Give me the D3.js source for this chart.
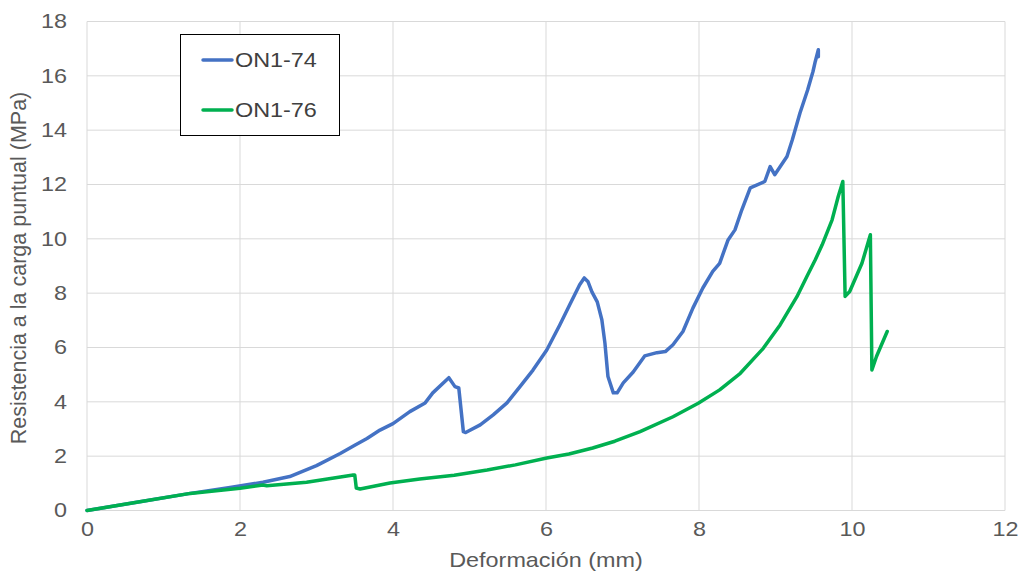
<!DOCTYPE html>
<html>
<head>
<meta charset="utf-8">
<script src="https://cdn.jsdelivr.net/npm/d3@7"></script>
<style>
  body { margin: 0; background: #fff; }
  svg text { font-family: "Liberation Sans", Arial, sans-serif; fill: #595959; }
</style>
</head>
<body>
<div id="chart"></div>
<script>
// Data -----------------------------------------------------------------------
const seriesNames = ["ON1-74", "ON1-76"];
const seriesColors = ["#4472C4", "#00B050"];

const on174X = [0, 0.69, 1.35, 1.87, 2.3, 2.65, 3.0, 3.31, 3.5, 3.66, 3.83, 4.0, 4.22, 4.42, 4.52, 4.73, 4.81, 4.86,
  4.92, 4.95, 5.14, 5.31, 5.49, 5.66, 5.83, 6.01, 6.18, 6.31, 6.44, 6.50, 6.55, 6.60, 6.67, 6.73, 6.77, 6.81, 6.88,
  6.93, 7.01, 7.14, 7.29, 7.45, 7.56, 7.66, 7.79, 7.92, 8.05, 8.18, 8.27, 8.38, 8.47, 8.56, 8.67, 8.73, 8.86, 8.93,
  8.99, 9.15, 9.22, 9.32, 9.42, 9.49, 9.52, 9.56, 9.56];
const on174Y = [0, 0.32, 0.63, 0.85, 1.04, 1.25, 1.65, 2.1, 2.4, 2.65, 2.96, 3.2, 3.64, 3.96, 4.33, 4.89, 4.56, 4.51,
  2.90, 2.87, 3.15, 3.52, 3.96, 4.56, 5.17, 5.91, 6.83, 7.57, 8.31, 8.56, 8.42, 8.05, 7.68, 7.02, 6.17, 4.93, 4.33,
  4.33, 4.70, 5.10, 5.69, 5.81, 5.85, 6.10, 6.59, 7.45, 8.19, 8.80, 9.10, 9.96, 10.33, 11.07, 11.88, 11.95, 12.11, 12.66,
  12.36, 13.03, 13.65, 14.63, 15.48, 16.16, 16.53, 16.96, 16.7];

const on176X = [0, 0.69, 1.35, 2.0, 2.3, 2.35, 2.87, 3.48, 3.50, 3.52, 3.57, 3.96, 4.35, 4.8, 5.23, 5.6, 6.01, 6.3,
  6.61, 6.9, 7.23, 7.66, 7.99, 8.27, 8.54, 8.84, 9.06, 9.28, 9.41, 9.52, 9.61, 9.74, 9.82, 9.88, 9.91, 9.97, 10.13,
  10.24, 10.26, 10.32, 10.46];
const on176Y = [0, 0.32, 0.63, 0.82, 0.94, 0.91, 1.04, 1.31, 1.31, 0.83, 0.79, 1.01, 1.16, 1.3, 1.49, 1.68, 1.93, 2.08,
  2.3, 2.55, 2.90, 3.45, 3.95, 4.44, 5.05, 5.97, 6.83, 7.87, 8.61, 9.23, 9.78, 10.7, 11.56, 12.11, 7.88, 8.06, 9.1,
  10.15, 5.17, 5.67, 6.59];

const xTicks = [0, 2, 4, 6, 8, 10, 12];
const yTicks = [0, 2, 4, 6, 8, 10, 12, 14, 16, 18];

// Canvas ---------------------------------------------------------------------
const canvasWidth = 1023;
const canvasHeight = 574;
const leftPadding = 87;
const rightPadding = 18;
const topPadding = 21.5;
const bottomPadding = 63.5;
const stretch = 1.17; // reference text looks horizontally stretched

const svg = d3.select("#chart")
  .append("svg")
  .attr("width", canvasWidth)
  .attr("height", canvasHeight);

const xScale = d3.scaleLinear()
  .domain([0, 12])
  .range([leftPadding, canvasWidth - rightPadding]);
const yScale = d3.scaleLinear()
  .domain([0, 18])
  .range([canvasHeight - bottomPadding, topPadding]);

// Gridlines
svg.append("g")
  .selectAll("line")
  .data(xTicks)
  .join("line")
  .attr("x1", d => xScale(d)).attr("x2", d => xScale(d))
  .attr("y1", yScale(0)).attr("y2", yScale(18))
  .attr("stroke", "#d9d9d9")
  .attr("stroke-width", 1);

svg.append("g")
  .selectAll("line")
  .data(yTicks)
  .join("line")
  .attr("x1", xScale(0)).attr("x2", xScale(12))
  .attr("y1", d => yScale(d)).attr("y2", d => yScale(d))
  .attr("stroke", "#d9d9d9")
  .attr("stroke-width", 1);

// Axes (labels only)
const tickFont = 20;
const xAxis = svg.append("g")
  .attr("transform", "translate(0," + yScale(0) + ")")
  .call(d3.axisBottom(xScale).tickValues(xTicks).tickSize(0).tickPadding(11).tickFormat(d3.format("d")));
xAxis.select(".domain").remove();
xAxis.selectAll("text")
  .style("font-size", tickFont + "px")
  .attr("fill", "#595959")
  .attr("transform", "scale(" + stretch + ",1)");

const yAxis = svg.append("g")
  .attr("transform", "translate(" + (xScale(0) - 20) + ",0)")
  .call(d3.axisLeft(yScale).tickValues(yTicks).tickSize(0).tickPadding(0).tickFormat(d3.format("d")));
yAxis.select(".domain").remove();
yAxis.selectAll("text")
  .style("font-size", tickFont + "px")
  .attr("fill", "#595959")
  .attr("transform", "scale(" + stretch + ",1)");

// Axis titles
svg.append("text")
  .text("Deformación (mm)")
  .attr("transform", "translate(" + ((xScale(0) + xScale(12)) / 2) + ",567) scale(" + stretch + ",1)")
  .style("text-anchor", "middle")
  .style("font-size", "20px");

svg.append("text")
  .text("Resistencia a la carga puntual (MPa)")
  .attr("transform", "translate(26," + ((yScale(0) + yScale(18)) / 2 + 2) + ") rotate(-90)")
  .style("text-anchor", "middle")
  .style("font-size", "21.5px");

// Series
const line = d3.line()
  .x(d => xScale(d[0]))
  .y(d => yScale(d[1]));

const seriesData = [
  d3.zip(on174X, on174Y),
  d3.zip(on176X, on176Y)
];

[0, 1].forEach(function(i) {
  svg.append("path")
    .datum(seriesData[i])
    .attr("d", line)
    .attr("fill", "none")
    .attr("stroke", seriesColors[i])
    .attr("stroke-width", 3.5)
    .attr("stroke-linejoin", "round")
    .attr("stroke-linecap", "round");
});

// Legend
const legend = svg.append("g");
legend.append("rect")
  .attr("x", 180.5).attr("y", 34.5)
  .attr("width", 159).attr("height", 101)
  .attr("fill", "#fff")
  .attr("stroke", "#000")
  .attr("stroke-width", 1);

seriesNames.forEach(function(name, i) {
  const ly = 60 + i * 50;
  legend.append("line")
    .attr("x1", 203).attr("x2", 232)
    .attr("y1", ly).attr("y2", ly)
    .attr("stroke", seriesColors[i])
    .attr("stroke-width", 3.5)
    .attr("stroke-linecap", "round");
  legend.append("text")
    .text(name)
    .attr("transform", "translate(235," + ly + ") scale(" + stretch + ",1)")
    .attr("dy", "0.36em")
    .style("font-size", "20px")
    .style("fill", "#404040");
});
</script>
</body>
</html>
